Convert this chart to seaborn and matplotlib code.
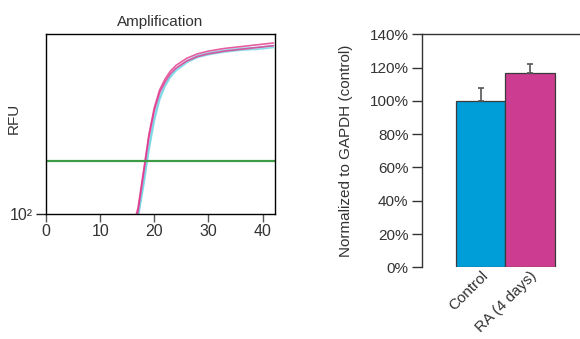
import numpy as np
import pandas as pd
import matplotlib
matplotlib.use('Agg')
import matplotlib.pyplot as plt
import seaborn as sns

# ---------------- data ----------------
cycles = [15, 16, 17, 18, 19, 20, 21, 22, 23, 24, 26, 28, 30, 33, 36, 39, 42]
rfu_ra_1 = [40, 71, 117, 295, 759, 1514, 2399, 3162, 3890, 4467, 5370, 6026, 6457, 6918, 7244, 7586, 7943]
rfu_ra_2 = [36, 64, 107, 275, 708, 1413, 2239, 2951, 3631, 4169, 5012, 5623, 6026, 6457, 6761, 7079, 7413]
rfu_ctrl_1 = [32, 52, 89, 200, 501, 1072, 1862, 2630, 3311, 3890, 4786, 5495, 5888, 6310, 6607, 6761, 7079]
rfu_ctrl_2 = [35, 58, 98, 224, 562, 1202, 1995, 2754, 3467, 4074, 5012, 5754, 6166, 6607, 6918, 7079, 7413]
threshold = 389

conditions = ['Control', 'RA (4 days)']
expression = [1.00, 1.17]
expression_err = [0.08, 0.05]

# ---------------- style ----------------
sns.set_style('white')
plt.rcParams['font.family'] = ['Liberation Sans', 'DejaVu Sans']
plt.rcParams['font.size'] = 10.5
plt.rcParams['text.color'] = '#333333'
plt.rcParams['xtick.labelcolor'] = '#333333'
plt.rcParams['ytick.labelcolor'] = '#333333'
plt.rcParams['axes.labelcolor'] = '#333333'

pink = '#e0358a'
cyan = '#6fd3e6'

fig = plt.figure(figsize=(5.8, 3.39), dpi=100)

# =============================================================
# Amplification plot
# =============================================================
traces = pd.concat([
    pd.DataFrame({'cycle': cycles, 'rfu': rfu_ctrl_1, 'group': 'ctrl', 'trace': 'c1'}),
    pd.DataFrame({'cycle': cycles, 'rfu': rfu_ctrl_2, 'group': 'ctrl', 'trace': 'c2'}),
    pd.DataFrame({'cycle': cycles, 'rfu': rfu_ra_2, 'group': 'ra', 'trace': 'r2'}),
    pd.DataFrame({'cycle': cycles, 'rfu': rfu_ra_1, 'group': 'ra', 'trace': 'r1'}),
])

ax1 = fig.add_axes([0.0793, 0.3687, 0.3948, 0.531])
sns.lineplot(data=traces, x='cycle', y='rfu', hue='group', units='trace',
             estimator=None, palette={'ctrl': cyan, 'ra': pink},
             linewidth=1.2, alpha=0.8, legend=False, ax=ax1)
ax1.axhline(threshold, color='#3f9a46', linewidth=1.6)
ax1.set_yscale('log')
ax1.set_ylim(100, 10000)
ax1.set_xlim(0, 42.3)
ax1.set_xticks([0, 10, 20, 30, 40])
ax1.set_yticks([100])
ax1.set_yticklabels(['10²'])
ax1.minorticks_off()
ax1.tick_params(axis='x', direction='out', length=5.5, width=1, bottom=True, pad=2,
                labelsize=11.5, color='#555555')
ax1.tick_params(axis='y', direction='out', length=7.5, width=1, left=True, pad=2,
                labelsize=11.5, color='#222222')
for s in ax1.spines.values():
    s.set_color('black')
    s.set_linewidth(1)
ax1.set_xlabel('')
ax1.set_ylabel('RFU', fontsize=11)
ax1.yaxis.set_label_coords(-0.11, 0.53)
ax1.set_title('Amplification', fontsize=11, pad=6)

# =============================================================
# Normalized expression bar chart
# =============================================================
ax2 = fig.add_axes([0.727, 0.2115, 0.28, 0.687])
sns.barplot(x=conditions, y=expression, hue=conditions,
            palette=['#009ed8', '#cc3d92'], saturation=1, width=1.0, errorbar=None,
            edgecolor='#3a3a3a', linewidth=0.9, legend=False, ax=ax2)
ax2.errorbar(range(len(conditions)), expression,
             yerr=[[0, 0], expression_err], fmt='none',
             ecolor='#555555', elinewidth=1.2, capsize=2.5, capthick=1.2)
ax2.set_xlim(-1.2, 2.1)
ax2.set_ylim(0, 1.4)
ax2.set_yticks(np.arange(0, 1.41, 0.2))
ax2.set_yticklabels([f'{int(round(v * 100))}%' for v in np.arange(0, 1.41, 0.2)])
ax2.tick_params(axis='y', direction='out', length=7.5, width=1, left=True, pad=2,
                labelsize=11, color='#333333')
ax2.tick_params(axis='x', length=0, pad=1, labelsize=11)
for lbl in ax2.get_xticklabels():
    lbl.set_rotation(45)
    lbl.set_ha('right')
    lbl.set_rotation_mode('anchor')
ax2.spines['right'].set_visible(False)
ax2.spines['bottom'].set_visible(False)
for s in ['left', 'top']:
    ax2.spines[s].set_color('#333333')
    ax2.spines[s].set_linewidth(1)
ax2.set_ylabel('Normalized to GAPDH (control)', fontsize=11, labelpad=12)

fig.savefig('out.png', dpi=100)
